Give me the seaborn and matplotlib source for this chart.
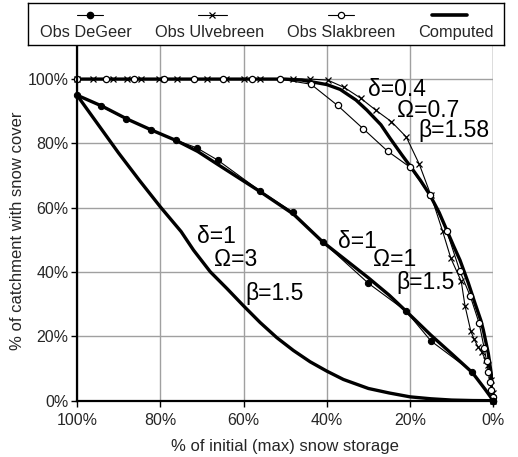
import numpy as np
import pandas as pd
import matplotlib
matplotlib.use("Agg")
import matplotlib.pyplot as plt
import seaborn as sns

# ---------------- data ----------------
degeer_x = [100, 94.3, 88.2, 82.2, 76.2, 71.2, 66.2, 56.0, 48.2, 41.0, 30.0, 21.0, 15.0, 5.0, 0]
degeer_y = [95.0, 91.6, 87.6, 84.2, 81.0, 78.6, 74.8, 65.2, 58.7, 49.4, 36.5, 27.9, 18.6, 8.9, 0]

ulve_x = [100, 96.2, 91.4, 88.0, 84.6, 80.2, 75.9, 68.7, 64.2, 60.0, 56.0, 48.0, 44.0,
          39.8, 35.8, 31.9, 28.2, 24.5, 20.9, 17.8, 15.0, 12.2, 10.2, 7.7, 6.8, 5.4,
          4.6, 3.7, 2.8, 1.8, 1.2, 0.6, 0.1, 0]
ulve_y = [100, 100, 100, 100, 100, 100, 100, 100, 100, 100, 100, 100, 100,
          99.7, 97.4, 94.1, 90.3, 86.8, 82.0, 73.6, 63.9, 52.8, 44.3, 37.1, 29.5, 21.6,
          19.1, 16.8, 15.2, 12.5, 11.1, 6.4, 2.3, 0]

slak_x = [100, 93.0, 86.2, 79.2, 72.0, 65.0, 58.0, 51.2, 43.8, 37.4, 31.2, 25.4, 20.0,
          15.2, 11.2, 8.0, 5.5, 3.4, 2.2, 1.6, 1.2, 0.8, 0.5, 0.1, 0]
slak_y = [100, 100, 100, 100, 100, 100, 100, 100, 98.4, 91.8, 84.5, 77.6, 72.6,
          63.9, 52.8, 40.2, 32.4, 24.1, 16.4, 12.2, 8.9, 5.9, 3.3, 1.0, 0]

comp_a_x = [100, 60, 50, 46, 40, 36.8, 33, 30.4, 27, 24.8, 22, 20, 17.5, 15.2, 13, 11.2,
            9.5, 8, 6, 4.4, 3, 2.4, 1.2, 0.4, 0]
comp_a_y = [100, 100, 100, 99.7, 98.3, 96.8, 93.5, 90.4, 85.8, 81.6, 76.5, 73.0, 68.5, 63.9,
            58.5, 53.1, 48.0, 43.7, 36.6, 30.3, 25.0, 22.0, 14.7, 7.5, 0]

comp_b_x = [100, 94, 88, 82, 76, 71, 66, 56, 48, 41, 35, 30, 25, 21, 15, 10, 5, 2, 0]
comp_b_y = [95, 91.6, 87.6, 84.1, 80.8, 77.5, 73.3, 65.0, 58.0, 49.4, 43.3, 38.2, 32.8,
            27.9, 20.4, 14.6, 8.7, 3.6, 0]

comp_c_x = [100, 95, 90, 85, 80, 75, 72, 68, 64, 60, 56, 52, 48, 44, 40, 36, 30, 25, 20,
            15, 10, 5, 0]
comp_c_y = [95, 86, 77, 68.5, 60.3, 52.6, 46.8, 40.1, 34.9, 29.5, 24.3, 19.6, 15.6, 12.1,
            9.2, 6.6, 3.8, 2.4, 1.2, 0.6, 0.2, 0.05, 0]

x_ticks = [100, 80, 60, 40, 20, 0]
y_ticks = [0, 20, 40, 60, 80, 100]
legend_labels = ["Obs DeGeer", "Obs Ulvebreen", "Obs Slakbreen", "Computed"]

# ---------------- style ----------------
sns.set_style("white")
plt.rcParams['font.family'] = ['Liberation Sans', 'DejaVu Sans']

W, H = 518, 457
fig = plt.figure(figsize=(W / 100, H / 100), dpi=100)
ax = fig.add_axes([77 / W, 1 - 400.7 / H, (493.3 - 77) / W, (400.7 - 45) / H])

# computed curves (thick)
for cx, cy in [(comp_a_x, comp_a_y), (comp_b_x, comp_b_y), (comp_c_x, comp_c_y)]:
    sns.lineplot(x=cx, y=cy, ax=ax, color="black", lw=2.4, sort=False,
                 estimator=None, zorder=3)

# observations (thin with markers)
sns.lineplot(x=ulve_x, y=ulve_y, ax=ax, color="black", lw=0.8, sort=False, estimator=None,
             marker="x", markersize=5, markeredgewidth=0.9, markeredgecolor="black",
             zorder=4, clip_on=False)
sns.lineplot(x=slak_x, y=slak_y, ax=ax, color="black", lw=0.8, sort=False, estimator=None,
             marker="o", markersize=4.5, markerfacecolor="white", markeredgecolor="black",
             markeredgewidth=0.9, zorder=5, clip_on=False)
sns.lineplot(x=degeer_x, y=degeer_y, ax=ax, color="black", lw=0.8, sort=False, estimator=None,
             marker="o", markersize=4.5, markerfacecolor="black", markeredgecolor="black",
             zorder=5, clip_on=False)

ax.set_xlim(100, 0)
ax.set_ylim(0, 110.6)
ax.set_xticks(x_ticks)
ax.set_yticks(y_ticks)
ax.set_xticklabels([f"{v}%" for v in x_ticks])
ax.set_yticklabels([f"{v}%" for v in y_ticks])
ax.grid(True, color="#a0a0a0", lw=1.0)
ax.set_axisbelow(True)
ax.axvline(0, color="#a0a0a0", lw=1.0, zorder=0.5)
for s in ["top", "right"]:
    ax.spines[s].set_visible(False)
for s in ["left", "bottom"]:
    ax.spines[s].set_color("black")
    ax.spines[s].set_linewidth(1.6)
    ax.spines[s].set_zorder(6)
ax.tick_params(axis="both", direction="out", length=4, width=1.0, color="black",
               labelsize=11.5, pad=2, bottom=True, left=True)
ax.tick_params(axis="x", pad=5)
ax.set_xlabel("% of initial (max) snow storage", fontsize=12)
ax.set_ylabel("% of catchment with snow cover", fontsize=12)
ax.xaxis.set_label_coords(0.5, -0.108)
ax.yaxis.set_label_coords(-0.124, 0.477)

# annotations
ann = dict(fontsize=16.5, ha="left", va="baseline", color="black", zorder=7)
ax.text(30.0, 94.7, "δ=0.4", **ann)
ax.text(23.1, 88.1, "Ω=0.7", **ann)
ax.text(18.0, 81.9, "β=1.58", **ann)
ax.text(71.2, 49.1, "δ=1", **ann)
ax.text(67.2, 42.0, "Ω=3", **ann)
ax.text(59.6, 31.3, "β=1.5", **ann)
ax.text(37.2, 47.4, "δ=1", **ann)
ax.text(28.8, 41.9, "Ω=1", **ann)
ax.text(23.4, 34.6, "β=1.5", **ann)

# legend box (handles above labels)
lx0, ly0, lx1, ly1 = 28, 3, 504, 45
lax = fig.add_axes([lx0 / W, 1 - ly1 / H, (lx1 - lx0) / W, (ly1 - ly0) / H])
lax.set_xlim(lx0, lx1)
lax.set_ylim(ly1, ly0)
lax.set_xticks([])
lax.set_yticks([])
for s in lax.spines.values():
    s.set_visible(True)
    s.set_color("black")
    s.set_linewidth(1.0)
hy = 15
lax.plot([77, 103], [hy, hy], color="black", lw=0.8)
lax.plot([90], [hy], "o", color="black", ms=4.5)
lax.plot([198, 227], [hy, hy], color="black", lw=0.8)
lax.plot([212], [hy], "x", color="black", ms=5, mew=0.9)
lax.plot([328, 354], [hy, hy], color="black", lw=0.8)
lax.plot([341], [hy], "o", mfc="white", mec="black", ms=4.5, mew=0.9)
lax.plot([432, 467], [hy, hy], color="black", lw=2.6)
for cx, lab in zip([86, 210, 341, 456], legend_labels):
    lax.text(cx, 32.5, lab, ha="center", va="center", fontsize=11.8)

fig.savefig("out.png", dpi=100)
